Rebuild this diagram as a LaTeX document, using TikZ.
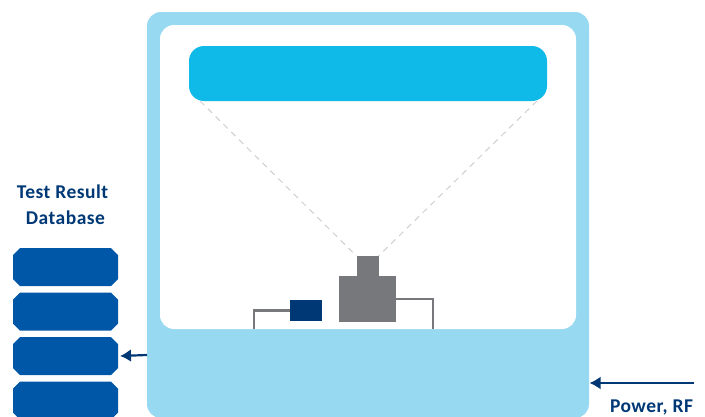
\documentclass[tikz,border=0pt]{standalone}
\usepackage{fontspec}
\setmainfont[LetterSpace=2.5]{Carlito}
\usepackage{xcolor}
\usetikzlibrary{
  arrows.meta,
  positioning
}
\definecolor{chamberblue}{RGB}{150,217,241}
\definecolor{screenblue}{RGB}{15,185,232}
\definecolor{dbblue}{RGB}{0,87,168}
\definecolor{navyblue}{RGB}{0,56,118}
\definecolor{cameragrey}{RGB}{119,120,123}
\definecolor{rayblue}{RGB}{205,208,210}
\tikzset{
  plainbox/.style={rectangle,minimum width=#1,inner sep=0pt,outer sep=0pt},
  chamberbox/.style={plainbox=442pt,minimum height=406pt,fill=chamberblue,rounded corners=14pt},
  innerbox/.style={plainbox=416pt,minimum height=304pt,fill=white,rounded corners=14pt},
  screenbox/.style={plainbox=358pt,minimum height=55pt,fill=screenblue,rounded corners=15pt},
  dbbox/.style={plainbox=105pt,minimum height=38pt},
  camerabox/.style={plainbox=57pt,minimum height=46pt,fill=cameragrey},
  headbox/.style={plainbox=22pt,minimum height=20pt,fill=cameragrey},
  sensorbox/.style={plainbox=32pt,minimum height=21pt,fill=navyblue},
  label/.style={font=\bfseries\fontsize{19.5}{19.5}\selectfont,text=navyblue,inner sep=0pt,anchor=base},
  wire/.style={line width=2.8pt,draw=cameragrey},
  ray/.style={line width=1pt,draw=rayblue,dash pattern=on 6pt off 5pt},
  flowarrow/.style={-{Latex[length=11pt,width=13pt]},line width=2.2pt,draw=navyblue}
}
\begin{document}
\begin{tikzpicture}[x=1pt,y=-1pt]
  \useasboundingbox (0,0) rectangle (705,416);
  \clip (0,0) rectangle (705,416);
  \node[chamberbox] (chamber) at (368,215) {};
  \node[innerbox] (inner) at (368,177) {};
  \node[screenbox] (screen) at (368,73.5) {};
  \node[camerabox] (camera) at (367.5,299) {};
  \node[headbox,above=0pt of camera] (head) {};
  \node[sensorbox] (sensor) at (306,310.5) {};
  \coordinate (sensorfoot) at (254,329);
  \coordinate (camerafoot) at (433,329);
  \coordinate (raya) at (200,101);
  \coordinate (rayb) at (537,101);
  \coordinate (powerin) at (694,383);
  \coordinate (chamberout) at (147,355);
  \coordinate (chamberin) at (589.5,383);
  \draw[ray] (raya) -- (head.north west);
  \draw[ray] (rayb) -- (head.north east);
  \draw[wire] (sensor.west) -| (sensorfoot);
  \draw[wire] ([yshift=-1pt]camera.east |- 0,298) -| (camerafoot);
  \node[dbbox] (dba) at (65.5,267) {};
  \node[dbbox,below=6.5pt of dba] (dbb) {};
  \node[dbbox,below=6.5pt of dbb] (dbc) {};
  \node[dbbox,below=6.5pt of dbc] (dbd) {};
  \foreach \db in {dba,dbb,dbc,dbd}
    \fill[dbblue] ([xshift=7pt]\db.north west) -- ([xshift=-7pt]\db.north east)
      -- ([yshift=-7pt]\db.north east) -- ([yshift=7pt]\db.south east)
      -- ([xshift=-7pt]\db.south east) -- ([xshift=7pt]\db.south west)
      -- ([yshift=7pt]\db.south west) -- ([yshift=-7pt]\db.north west) -- cycle;
  \node[label] (dbtitle) at (62.5,198) {Test Result};
  \node[label] (dbname) at (65.5,224) {Database};
  \node[label] (power) at (651.5,412) {Power, RF};
  \draw[flowarrow] (chamberout) -- ([xshift=2pt]dbc.east);
  \draw[flowarrow] (powerin) -- (chamberin);
\end{tikzpicture}
\end{document}
